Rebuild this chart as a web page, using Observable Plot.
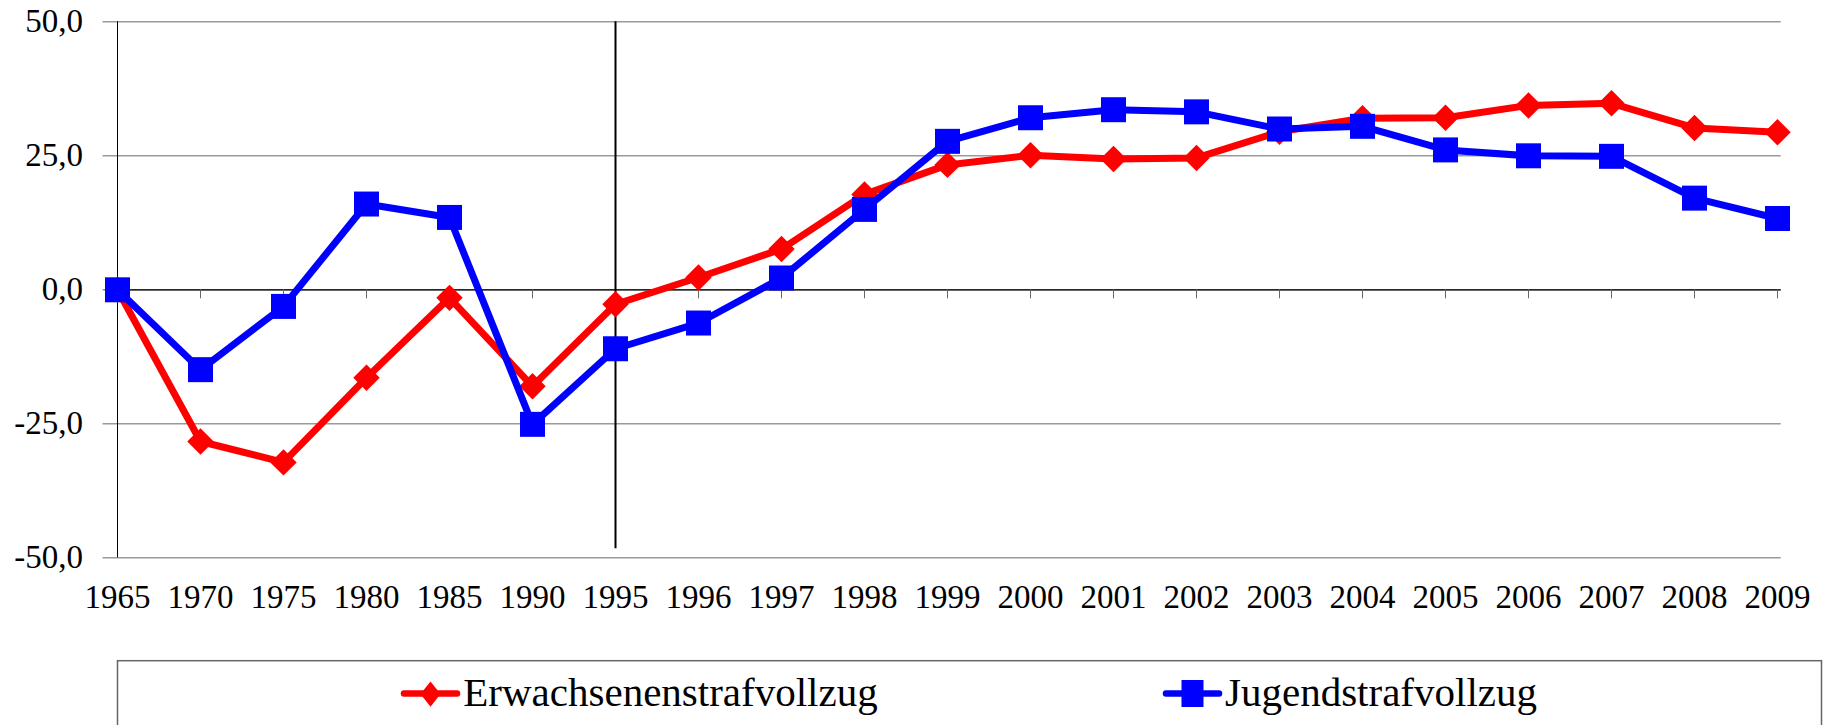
<!DOCTYPE html>
<html><head><meta charset="utf-8">
<script src="https://cdn.jsdelivr.net/npm/d3@7"></script>
<script src="https://cdn.jsdelivr.net/npm/@observablehq/plot@0.6"></script>
<style>
html,body{margin:0;padding:0;background:#fff;overflow:hidden;}
#wrap{position:relative;width:1836px;height:725px;}
#legend{position:absolute;left:0;top:650px;}
</style></head><body><div id="wrap"><div id="chart"></div></div>
<script>
const years = ["1965","1970","1975","1980","1985","1990","1995","1996","1997","1998","1999","2000","2001","2002","2003","2004","2005","2006","2007","2008","2009"];
const erwachsenen = [0,-28.3,-32.2,-16.4,-1.5,-18.0,-2.7,2.3,7.6,17.8,23.3,25.1,24.4,24.6,29.5,32.0,32.1,34.4,34.8,30.2,29.4];
const jugend = [0,-14.9,-3.1,16.0,13.5,-25.1,-11.0,-6.2,2.2,15.0,27.7,32.1,33.6,33.2,30.0,30.5,26.1,25.0,24.9,17.1,13.3];
const yTicks = [-50,-25,0,25,50];
const seriesNames = ["Erwachsenenstrafvollzug","Jugendstrafvollzug"];
const seriesColors = ["#ff0000","#0000ff"];
const markerYear = "1995";

const rows = (vals) => years.map((y,i)=>({year:y, value: vals[i]}));
const red = rows(erwachsenen), blue = rows(jugend);
const fmt = d => d.toFixed(1).replace(".", ",");
const FONT = "Liberation Serif, Times New Roman, serif";

const chart = Plot.plot({
  width:1836, height:660,
  marginLeft:112.5, marginRight:55.3, marginTop:21.3, marginBottom:102.7,
  style:{fontFamily:FONT, fontSize:"33px", background:"#fff", color:"#000"},
  x:{type:"point", domain:years, padding:0, label:null},
  y:{domain:[-50,50], label:null},
  marks:[
    Plot.ruleY(yTicks, {stroke:"#9a9a9a", strokeWidth:1.4, insetLeft:-10}),
    Plot.ruleX([years[0]], {y1:50, y2:-50, stroke:"#000", strokeWidth:1}),
    Plot.ruleY([0], {stroke:"#000", strokeWidth:1.3}),
    Plot.ruleX(years, {x:d=>d, y1:0, y2:0, insetBottom:-9, stroke:"#666", strokeWidth:1}),
    Plot.ruleX([markerYear], {y1:50, y2:-50, insetBottom:9, stroke:"#000", strokeWidth:2}),
    Plot.axisY(yTicks, {tickSize:0, tickPadding:30, tickFormat:fmt, fontSize:33, label:null}),
    Plot.axisX({tickSize:0, tickPadding:27, fontSize:33, label:null}),
    Plot.line(red, {x:"year", y:"value", stroke:seriesColors[0], strokeWidth:7}),
    Plot.dot(red, {x:"year", y:"value", symbol:"diamond2", r:11.9, fill:seriesColors[0], stroke:"none"}),
    Plot.line(blue, {x:"year", y:"value", stroke:seriesColors[1], strokeWidth:7}),
    Plot.dot(blue, {x:"year", y:"value", symbol:"square", r:14.1, fill:seriesColors[1], stroke:"none"})
  ]
});
document.getElementById("chart").appendChild(chart);

// Legend (below the chart)
const lg = d3.select("#wrap").append("svg").attr("id","legend")
  .attr("width",1836).attr("height",75);
lg.append("rect").attr("x",117.5).attr("y",10.7).attr("width",1704).attr("height",120)
  .attr("fill","none").attr("stroke","#666").attr("stroke-width",1.5);
const items = [
  {name:seriesNames[0], color:seriesColors[0], lx:404, tx:463.3, shape:"diamond"},
  {name:seriesNames[1], color:seriesColors[1], lx:1166, tx:1225, shape:"square"}
];
items.forEach(it=>{
  const g = lg.append("g");
  g.append("line").attr("x1",it.lx).attr("x2",it.lx+53).attr("y1",43.5).attr("y2",43.5)
    .attr("stroke",it.color).attr("stroke-width",6.5).attr("stroke-linecap","round");
  const cx = it.lx+26.5;
  if(it.shape==="diamond"){
    g.append("polygon").attr("points",`${cx},31.5 ${cx+10},44 ${cx},56.7 ${cx-10},44`).attr("fill",it.color);
  } else {
    g.append("rect").attr("x",cx-11).attr("y",30).attr("width",22).attr("height",27).attr("fill",it.color);
  }
  g.append("text").attr("x",it.tx).attr("y",55.5).attr("font-family",FONT).attr("font-size",41)
    .attr("fill","#000").text(it.name);
});
</script></body></html>
